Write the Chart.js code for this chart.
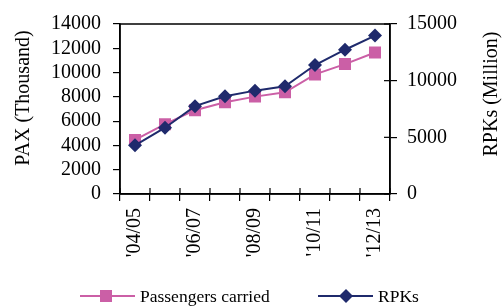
<!DOCTYPE html>
<html><head><meta charset="utf-8">
<script src="https://cdn.jsdelivr.net/npm/chart.js@4/dist/chart.umd.min.js"></script>
<style>html,body{margin:0;padding:0;background:#fff}#wrap{width:502px;height:308px;position:relative}</style>
</head><body><div id="wrap"><canvas id="c" width="502" height="308"></canvas></div>
<script>
const categories = ["'04/05","'05/06","'06/07","'07/08","'08/09","'09/10","'10/11","'11/12","'12/13"];
const paxValues = [4450, 5750, 6900, 7550, 8020, 8370, 9850, 10700, 11650];
const rpkValues = [4300, 5850, 7750, 8620, 9120, 9500, 11380, 12730, 13980];
const leftTicks = [0, 2000, 4000, 6000, 8000, 10000, 12000, 14000];
const rightTicks = [0, 5000, 10000, 15000];
const seriesNames = ["Passengers carried", "RPKs"];
const axisTitles = ["PAX (Thousand)", "RPKs (Million)"];

const PINK = '#CB5FA6', NAVY = '#1F2A6C';
const FONT = 'Liberation Serif';

const framePlugin = {
  id: 'frame',
  afterDraw(chart) {
    const ctx = chart.ctx, a = chart.chartArea;
    ctx.save();
    ctx.strokeStyle = '#000'; ctx.lineWidth = 1.5;
    ctx.strokeRect(a.left, a.top, a.right - a.left, a.bottom - a.top);
    ctx.lineWidth = 1.2;
    const xs = chart.scales.x;
    const step = xs.getPixelForTick(1) - xs.getPixelForTick(0);
    for (let i = 0; i <= categories.length; i++) {
      const px = xs.getPixelForTick(0) - step / 2 + i * step;
      ctx.beginPath(); ctx.moveTo(px, a.bottom); ctx.lineTo(px, a.bottom - 6); ctx.stroke();
    }
    const yr = chart.scales.y1;
    rightTicks.forEach(v => {
      const py = yr.getPixelForValue(v);
      ctx.beginPath(); ctx.moveTo(a.right, py); ctx.lineTo(a.right - 6, py); ctx.stroke();
    });
    ctx.fillStyle = '#000';
    ctx.font = '20px "' + FONT + '"';
    ctx.textAlign = 'center'; ctx.textBaseline = 'middle';
    ctx.save(); ctx.translate(24, 98); ctx.rotate(-Math.PI / 2); ctx.fillText(axisTitles[0], 0, 0); ctx.restore();
    ctx.save(); ctx.translate(492, 94); ctx.rotate(-Math.PI / 2); ctx.fillText(axisTitles[1], 0, 0); ctx.restore();
    const items = [
      {x0: 80, x1: 135, mx: 106, tx: 140, color: PINK, shape: 'square', label: seriesNames[0]},
      {x0: 318, x1: 373, mx: 346, tx: 378, color: NAVY, shape: 'diamond', label: seriesNames[1]}
    ];
    const ly = 296;
    ctx.font = '17.5px "' + FONT + '"';
    ctx.textAlign = 'left';
    items.forEach(it => {
      ctx.strokeStyle = it.color; ctx.lineWidth = 2;
      ctx.beginPath(); ctx.moveTo(it.x0, ly); ctx.lineTo(it.x1, ly); ctx.stroke();
      ctx.fillStyle = it.color;
      ctx.beginPath();
      if (it.shape === 'square') { ctx.rect(it.mx - 6, ly - 6, 12, 12); }
      else { ctx.moveTo(it.mx, ly - 7); ctx.lineTo(it.mx + 7, ly); ctx.lineTo(it.mx, ly + 7); ctx.lineTo(it.mx - 7, ly); ctx.closePath(); }
      ctx.fill();
      ctx.fillStyle = '#000';
      ctx.fillText(it.label, it.tx, ly + 1);
    });
    ctx.restore();
  }
};

new Chart(document.getElementById('c'), {
  type: 'line',
  data: {
    labels: categories,
    datasets: [
      {label: seriesNames[0], data: paxValues, yAxisID: 'y', borderColor: PINK, backgroundColor: PINK,
       borderWidth: 2, pointStyle: 'rect', pointRadius: 8.5, pointBorderWidth: 0, tension: 0, order: 2},
      {label: seriesNames[1], data: rpkValues, yAxisID: 'y1', borderColor: NAVY, backgroundColor: NAVY,
       borderWidth: 2, pointStyle: 'rectRot', pointRadius: 7, pointBorderWidth: 0, tension: 0, order: 1}
    ]
  },
  options: {
    responsive: false, animation: false,
    layout: {padding: {top: 20, bottom: 0, left: 0, right: 0}},
    plugins: {legend: {display: false}, tooltip: {enabled: false}},
    scales: {
      x: {
        type: 'category', offset: true,
        grid: {display: true, drawOnChartArea: false, offset: true, tickLength: 7, color: '#000', lineWidth: 1.2},
        border: {display: true, color: '#000', width: 1.5},
        ticks: {color: '#000', font: {family: FONT, size: 20}, minRotation: 90, maxRotation: 90, autoSkip: false, padding: 7,
                callback: (v, i) => (i % 2 === 0 ? categories[i] : '')},
        afterFit: s => { s.height = 114; }
      },
      y: {
        position: 'left', min: 0, max: 14000,
        afterBuildTicks: s => { s.ticks = leftTicks.map(v => ({value: v})); },
        grid: {display: true, drawOnChartArea: false, tickLength: 7, color: '#000', lineWidth: 1.2},
        border: {display: true, color: '#000', width: 1.5},
        ticks: {color: '#000', font: {family: FONT, size: 20}, padding: 12, autoSkip: false, callback: v => String(v)},
        afterFit: s => { s.width = 120; }
      },
      y1: {
        position: 'right', min: 0, max: 15000,
        afterBuildTicks: s => { s.ticks = rightTicks.map(v => ({value: v})); },
        grid: {display: true, drawOnChartArea: false, tickLength: 7, color: '#000', lineWidth: 1.2},
        border: {display: true, color: '#000', width: 1.5},
        ticks: {color: '#000', font: {family: FONT, size: 20}, padding: 10, autoSkip: false, callback: v => String(v)},
        afterFit: s => { s.width = 112; }
      }
    }
  },
  plugins: [framePlugin]
});
</script></body></html>
